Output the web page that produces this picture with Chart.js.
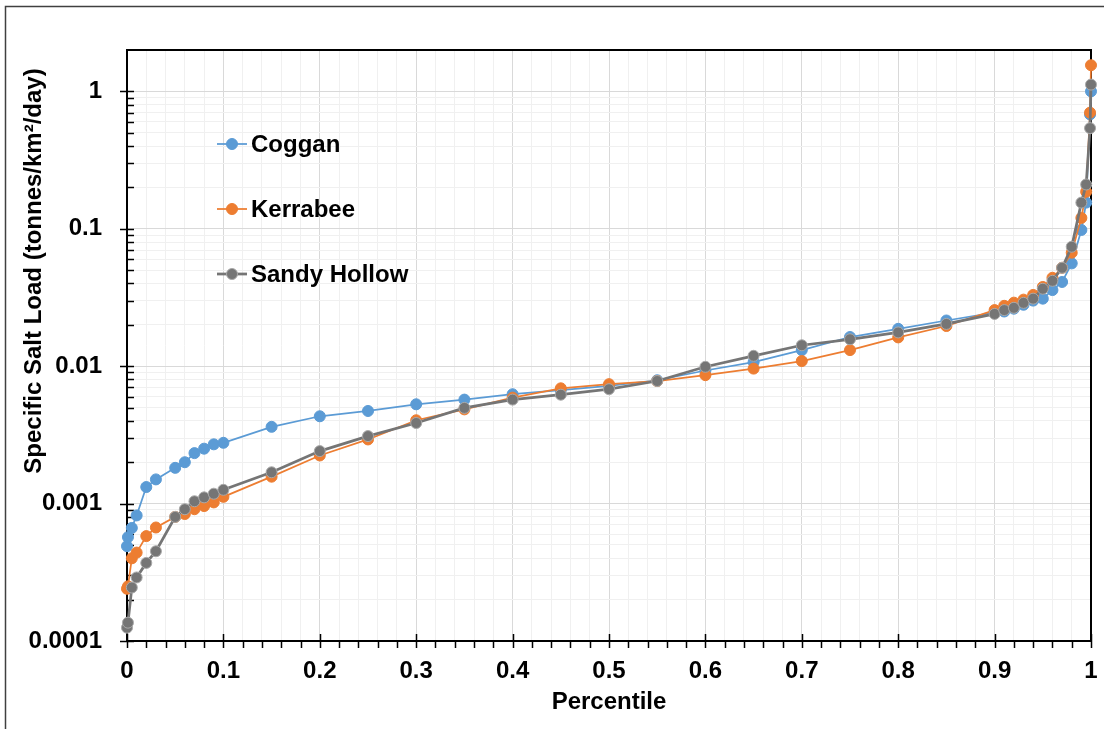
<!DOCTYPE html>
<html>
<head>
<meta charset="utf-8">
<script src="https://cdn.jsdelivr.net/npm/chart.js@4.4.0/dist/chart.umd.min.js"></script>
<style>
  html, body { margin: 0; padding: 0; background: #fff; }
  #wrap { width: 1104px; height: 729px; }
</style>
</head>
<body>
<div id="wrap"><canvas id="saltchart" width="1104" height="729"></canvas></div>
<script>
// percentile of daily salt load
let percentiles = [0, 0.001, 0.005, 0.01, 0.02, 0.03, 0.05, 0.06, 0.07, 0.08, 0.09, 0.1,
    0.15, 0.2, 0.25, 0.3, 0.35, 0.4, 0.45, 0.5, 0.55, 0.6, 0.65, 0.7, 0.75, 0.8, 0.85,
    0.9, 0.91, 0.92, 0.93, 0.94, 0.95, 0.96, 0.97, 0.98, 0.99, 0.995, 0.999, 1];

let coggan = [0.00049, 0.00057, 0.000665, 0.00082, 0.00132, 0.0015, 0.00182, 0.002, 0.00233, 0.00251, 0.0027, 0.00277,
    0.00362, 0.00432, 0.00472, 0.00528, 0.00571, 0.00625, 0.0067, 0.0072, 0.0079, 0.0093, 0.0107, 0.0131, 0.0163, 0.0187, 0.0215,
    0.0245, 0.025, 0.0262, 0.028, 0.030, 0.031, 0.0358, 0.041, 0.056, 0.098, 0.155, 0.68, 1.0];

let kerrabee = [0.00024, 0.00025, 0.0004, 0.00044, 0.00058, 0.00067, 0.0008, 0.00084, 0.00091, 0.00096, 0.00102, 0.00112,
    0.00157, 0.00224, 0.00293, 0.00404, 0.00485, 0.0059, 0.0069, 0.0074, 0.0078, 0.0086, 0.0096, 0.0109, 0.0131, 0.0162, 0.0196,
    0.0256, 0.0275, 0.029, 0.0305, 0.033, 0.0377, 0.044, 0.052, 0.067, 0.12, 0.186, 0.70, 1.55];

let sandyHollow = [0.000125, 0.000136, 0.000245, 0.00029, 0.00037, 0.00045, 0.0008, 0.00091, 0.00104, 0.00111, 0.00118, 0.00126,
    0.00169, 0.00241, 0.0031, 0.00386, 0.00497, 0.00571, 0.0062, 0.0068, 0.0078, 0.0099, 0.0119, 0.0142, 0.0157, 0.0176, 0.0203,
    0.024, 0.0256, 0.0266, 0.0289, 0.031, 0.0366, 0.0418, 0.052, 0.074, 0.155, 0.21, 0.54, 1.12];

let xTickLabels = ['0', '0.1', '0.2', '0.3', '0.4', '0.5', '0.6', '0.7', '0.8', '0.9', '1'];
let yMajor = [0.0001, 0.001, 0.01, 0.1, 1];
let yTickLabels = ['0.0001', '0.001', '0.01', '0.1', '1'];

const FONT = 'Liberation Sans, Arial, sans-serif';

// minor x ticks every 0.02, labelled every 0.1
let xTickValues = [];
for (let i = 0; i <= 50; i++) xTickValues.push(Math.round(i * 2) / 100);

// log ticks 1..9 per decade, up to the axis max of 2
let yTickValues = [];
yMajor.forEach(d => {
    for (let k = 1; k <= 9; k++) {
        let v = Number((d * k).toPrecision(6));
        if (v <= 2) yTickValues.push({ value: v, major: k === 1 });
    }
});

function pairs(vals) {
    return percentiles.map((p, i) => ({ x: p, y: vals[i] }));
}

function series(label, vals, line, fill, edge, width, order) {
    return {
        label: label,
        data: pairs(vals),
        borderColor: line,
        borderWidth: width,
        backgroundColor: fill,
        pointBackgroundColor: fill,
        pointBorderColor: edge,
        pointBorderWidth: 1,
        pointRadius: 5.5,
        tension: 0,
        clip: false,
        order: order
    };
}

let saltData = {
    datasets: [
        series('Coggan', coggan, '#5b9bd5', '#5b9bd5', '#5b9bd5', 1.75, 3),
        series('Kerrabee', kerrabee, '#ed7d31', '#ed7d31', '#ed7d31', 1.75, 2),
        series('Sandy Hollow', sandyHollow, '#757575', '#757575', '#a9a9a9', 2.75, 1)
    ]
};

// frame, plot box, excel-style tick marks, legend and axis titles
let decorPlugin = {
    id: 'decor',
    beforeDraw(chart) {
        let ctx = chart.ctx;
        ctx.save();
        ctx.fillStyle = '#fff';
        ctx.fillRect(0, 0, chart.width, chart.height);
        ctx.strokeStyle = '#404040';
        ctx.lineWidth = 1.5;
        ctx.strokeRect(5.5, 6.5, chart.width + 20, chart.height + 20);
        ctx.restore();
    },
    beforeDatasetsDraw(chart) {
        let ctx = chart.ctx, a = chart.chartArea;
        let xs = chart.scales.x, ys = chart.scales.y;
        ctx.save();
        ctx.strokeStyle = '#000';
        ctx.lineWidth = 2;
        ctx.strokeRect(a.left, a.top, a.right - a.left, a.bottom - a.top);
        ctx.lineWidth = 1.5;
        ctx.beginPath();
        xs.ticks.forEach(t => {
            let px = Math.round(xs.getPixelForValue(t.value)) + 0.5;
            ctx.moveTo(px, t.major ? a.bottom - 7 : a.bottom);
            ctx.lineTo(px, a.bottom + 7);
        });
        ys.ticks.forEach(t => {
            if (t.value > 1.5) return;
            let py = Math.round(ys.getPixelForValue(t.value)) + 0.5;
            ctx.moveTo(t.major ? a.left - 7 : a.left, py);
            ctx.lineTo(a.left + 7, py);
        });
        ctx.stroke();
        ctx.restore();
    },
    afterDraw(chart) {
        let ctx = chart.ctx, a = chart.chartArea;
        ctx.save();
        ctx.fillStyle = '#000';
        ctx.font = 'bold 24px ' + FONT;
        ctx.textAlign = 'center';
        ctx.textBaseline = 'middle';
        ctx.fillText('Percentile', (a.left + a.right) / 2, 702);

        ctx.translate(41, 271);
        ctx.rotate(-Math.PI / 2);
        ctx.textBaseline = 'alphabetic';
        ctx.fillText('Specific Salt Load (tonnes/km\u00b2/day)', 0, 0);
        ctx.restore();

        // legend inside the plot
        ctx.save();
        ctx.font = 'bold 24px ' + FONT;
        ctx.textAlign = 'left';
        ctx.textBaseline = 'middle';
        chart.data.datasets.forEach((ds, i) => {
            let y = 144 + i * 65;
            ctx.strokeStyle = ds.borderColor;
            ctx.lineWidth = ds.borderWidth;
            ctx.beginPath();
            ctx.moveTo(217, y);
            ctx.lineTo(247, y);
            ctx.stroke();
            ctx.beginPath();
            ctx.arc(232, y, 5.5, 0, Math.PI * 2);
            ctx.fillStyle = ds.pointBackgroundColor;
            ctx.fill();
            ctx.lineWidth = 1;
            ctx.strokeStyle = ds.pointBorderColor;
            ctx.stroke();
            ctx.fillStyle = '#000';
            ctx.fillText(ds.label, 251, y + 1);
        });
        ctx.restore();
    }
};

let saltConfig = {
    type: 'line',
    data: saltData,
    options: {
        responsive: false,
        animation: false,
        devicePixelRatio: 1,
        layout: { padding: { left: 0, top: 50, right: 13, bottom: 0 } },
        plugins: {
            legend: { display: false },
            tooltip: { enabled: false }
        },
        scales: {
            x: {
                type: 'linear',
                min: 0,
                max: 1,
                afterBuildTicks: s => { s.ticks = xTickValues.map((v, i) => ({ value: v, major: i % 5 === 0 })); },
                afterFit: s => { s.height = 88; s.paddingLeft = 0; s.paddingRight = 0; },
                ticks: {
                    autoSkip: false,
                    maxRotation: 0,
                    padding: 16,
                    color: '#000',
                    font: { family: FONT, size: 24, weight: 'bold' },
                    callback: (v, i) => (i % 5 === 0 ? xTickLabels[i / 5] : '')
                },
                grid: {
                    drawTicks: false,
                    color: c => (c.tick && c.tick.major ? '#d9d9d9' : '#f0f0f0'),
                    lineWidth: 1
                },
                border: { display: false }
            },
            y: {
                type: 'logarithmic',
                min: 0.0001,
                max: 2,
                afterBuildTicks: s => { s.ticks = yTickValues.map(t => ({ value: t.value, major: t.major })); },
                afterFit: s => { s.width = 127; s.paddingTop = 0; s.paddingBottom = 0; },
                ticks: {
                    autoSkip: false,
                    padding: 25,
                    color: '#000',
                    font: { family: FONT, size: 24, weight: 'bold' },
                    callback: function (v, i, t) {
                        let k = yMajor.indexOf(t[i].value);
                        return k >= 0 ? yTickLabels[k] : '';
                    }
                },
                grid: {
                    drawTicks: false,
                    color: c => (c.tick && c.tick.major ? '#d9d9d9' : '#f0f0f0'),
                    lineWidth: 1
                },
                border: { display: false }
            }
        }
    },
    plugins: [decorPlugin]
};

let saltChart = new Chart(document.getElementById('saltchart').getContext('2d'), saltConfig);
</script>
</body>
</html>
